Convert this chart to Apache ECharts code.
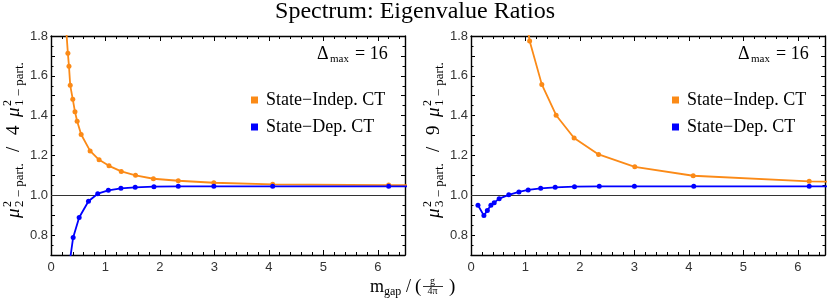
<!DOCTYPE html>
<html>
<head>
<meta charset="utf-8">
<script src="https://cdn.jsdelivr.net/npm/echarts@6/dist/echarts.min.js"></script>
<style>
html,body{margin:0;padding:0;background:#fff;}
#c{width:830px;height:302px;}
</style>
</head>
<body>
<div id="c"></div>
<script>
// ---- data ----
const titleText = 'Spectrum: Eigenvalue Ratios';
const seriesNames = ['State\u2212Indep. CT', 'State\u2212Dep. CT'];
const yTickValues = [0.8, 1.0, 1.2, 1.4, 1.6, 1.8];
const xTickValues = [0, 1, 2, 3, 4, 5, 6];

// left panel: mu2^2 / 4 mu1^2
const indepLeftX = [0.28, 0.31, 0.33, 0.353, 0.40, 0.44, 0.48, 0.554, 0.718, 0.883, 1.065, 1.29, 1.552, 1.88, 2.337, 2.99, 4.07, 6.2, 12.5];
const indepLeftY = [1.83, 1.713, 1.648, 1.552, 1.482, 1.42, 1.372, 1.305, 1.223, 1.178, 1.148, 1.12, 1.10, 1.083, 1.073, 1.063, 1.055, 1.051, 1.047];
const depLeftX = [0.33, 0.407, 0.517, 0.688, 0.858, 1.053, 1.284, 1.546, 1.89, 2.337, 2.99, 4.07, 6.2, 12.5];
const depLeftY = [0.64, 0.788, 0.888, 0.97, 1.008, 1.025, 1.035, 1.04, 1.043, 1.045, 1.045, 1.045, 1.045, 1.045];

// right panel: mu3^2 / 9 mu1^2
const indepRightX = [0.883, 1.077, 1.30, 1.563, 1.893, 2.343, 3.007, 4.08, 6.21, 12.5];
const indepRightY = [2.1, 1.775, 1.557, 1.402, 1.288, 1.205, 1.143, 1.098, 1.07, 1.045];
const depRightX = [0.128, 0.237, 0.30, 0.365, 0.426, 0.517, 0.694, 0.88, 1.05, 1.28, 1.546, 1.9, 2.355, 3.0, 4.09, 6.21, 12.5];
const depRightY = [0.95, 0.898, 0.923, 0.95, 0.963, 0.983, 1.002, 1.017, 1.027, 1.035, 1.04, 1.043, 1.045, 1.045, 1.045, 1.045, 1.045];

const refLine = 1.0;
// ---------------------------------------

const ORANGE = '#FB8A17';
const BLUE = '#0000FF';
const SERIF = '"Liberation Serif", "DejaVu Serif", serif';
const SANS = '"Liberation Sans", Arial, sans-serif';

function pairs(xs, ys) { return xs.map((x, i) => [x, ys[i]]); }

const grids = [
  {left: 51, top: 36, width: 354, height: 219},
  {left: 471, top: 36, width: 354, height: 219}
];

function xAxes(gi) {
  const common = {
    type: 'value', gridIndex: gi, min: 0, max: 6.5, interval: 1,
    axisLine: {show: true, onZero: false, lineStyle: {color: '#000', width: 1.4}},
    axisTick: {show: true, inside: true, length: 5, lineStyle: {color: '#000', width: 1}},
    minorTick: {show: true, splitNumber: 5, length: 3, lineStyle: {color: '#000', width: 1}},
    splitLine: {show: false}
  };
  return [
    Object.assign({}, common, {position: 'bottom',
      axisLabel: {show: true, margin: 6, fontFamily: SANS, fontSize: 13, color: '#333', showMaxLabel: false,
        formatter: v => (xTickValues.indexOf(Math.round(v * 10) / 10) >= 0 ? String(Math.round(v)) : '')}}),
    Object.assign({}, common, {position: 'top', axisLabel: {show: false}})
  ];
}

function yAxes(gi) {
  const common = {
    type: 'value', gridIndex: gi, min: 0.7, max: 1.8, interval: 0.1,
    axisLine: {show: true, onZero: false, lineStyle: {color: '#000', width: 1.4}},
    axisTick: {show: true, inside: true, length: 4, lineStyle: {color: '#000', width: 1}},
    minorTick: {show: true, splitNumber: 2, length: 2.5, lineStyle: {color: '#000', width: 1}},
    splitLine: {show: false}
  };
  return [
    Object.assign({}, common, {position: 'left',
      axisLabel: {show: true, margin: 3, fontFamily: SANS, fontSize: 13, color: '#333',
        formatter: v => {
          const r = Math.round(v * 10) / 10;
          return yTickValues.some(t => Math.abs(t - r) < 1e-6) ? r.toFixed(1) : '';
        }}}),
    Object.assign({}, common, {position: 'right', axisLabel: {show: false}})
  ];
}

function lineSeries(name, color, data, xi, yi, withRef) {
  const s = {
    name: name, type: 'line', xAxisIndex: xi, yAxisIndex: yi,
    data: data, symbol: 'circle', symbolSize: 5, showSymbol: true, clip: true,
    itemStyle: {color: color}, lineStyle: {color: color, width: 1.8},
    animation: false, z: 3
  };
  if (withRef) {
    s.markLine = {silent: true, symbol: ['none', 'none'], label: {show: false},
      lineStyle: {color: '#333', width: 1, type: 'solid'}, data: [{yAxis: refLine}], z: 1};
  }
  return s;
}

function legendFor(left) {
  return {
    orient: 'vertical', left: left, top: 86, itemGap: 9, itemWidth: 7, itemHeight: 7,
    icon: 'rect', data: seriesNames, selectedMode: false,
    textStyle: {fontFamily: SERIF, fontSize: 18, color: '#000', padding: [0, 0, 0, 3]}
  };
}

function deltaLabel(x0) {
  return [
    {type: 'text', x: x0, y: 54, style: {text: '\u0394', font: '18px ' + SERIF, fill: '#000', align: 'left', verticalAlign: 'middle'}},
    {type: 'text', x: x0 + 13, y: 59, style: {text: 'max', font: '11px ' + SERIF, fill: '#000', align: 'left', verticalAlign: 'middle'}},
    {type: 'text', x: x0 + 38, y: 54, style: {text: '= 16', font: '18px ' + SERIF, fill: '#000', align: 'left', verticalAlign: 'middle'}}
  ];
}

function yName(x0, num, k) {
  return {
    type: 'group', x: x0, y: 218, rotation: Math.PI / 2,
    children: [
      {type: 'text', x: 0, y: 0, style: {text: '\u03bc', font: 'italic 19px ' + SERIF, fill: '#000', verticalAlign: 'middle'}},
      {type: 'text', x: 11, y: -6, style: {text: '2', font: '12px ' + SERIF, fill: '#000', verticalAlign: 'middle'}},
      {type: 'text', x: 11, y: 6, style: {text: num + ' \u2212 part.', font: '13px ' + SERIF, fill: '#000', verticalAlign: 'middle'}},
      {type: 'text', x: 66, y: 0, style: {text: '/', font: '19px ' + SERIF, fill: '#000', verticalAlign: 'middle'}},
      {type: 'text', x: 83, y: 0, style: {text: k, font: '19px ' + SERIF, fill: '#000', verticalAlign: 'middle'}},
      {type: 'text', x: 101, y: 0, style: {text: '\u03bc', font: 'italic 19px ' + SERIF, fill: '#000', verticalAlign: 'middle'}},
      {type: 'text', x: 112, y: -6, style: {text: '2', font: '12px ' + SERIF, fill: '#000', verticalAlign: 'middle'}},
      {type: 'text', x: 112, y: 6, style: {text: '1 \u2212 part.', font: '13px ' + SERIF, fill: '#000', verticalAlign: 'middle'}}
    ]
  };
}

const xLabel = [
  {type: 'text', x: 370, y: 287, style: {text: 'm', font: '18px ' + SERIF, fill: '#000', verticalAlign: 'middle'}},
  {type: 'text', x: 384, y: 292, style: {text: 'gap', font: '12px ' + SERIF, fill: '#000', verticalAlign: 'middle'}},
  {type: 'text', x: 406, y: 287, style: {text: '/', font: '18px ' + SERIF, fill: '#000', verticalAlign: 'middle'}},
  {type: 'text', x: 415, y: 287, style: {text: '(', font: '19px ' + SERIF, fill: '#000', verticalAlign: 'middle'}},
  {type: 'text', x: 432.5, y: 281.5, style: {text: 'g', font: '10px ' + SERIF, fill: '#000', align: 'center', verticalAlign: 'middle'}},
  {type: 'line', shape: {x1: 423, y1: 286.5, x2: 443, y2: 286.5}, style: {stroke: '#000', lineWidth: 0.8}},
  {type: 'text', x: 432.5, y: 291, style: {text: '4\u03c0', font: '10px ' + SERIF, fill: '#000', align: 'center', verticalAlign: 'middle'}},
  {type: 'text', x: 449, y: 287, style: {text: ')', font: '19px ' + SERIF, fill: '#000', verticalAlign: 'middle'}}
];

const option = {
  backgroundColor: '#fff',
  animation: false,
  title: {text: titleText, left: 'center', top: 0, padding: 0,
    textStyle: {fontFamily: SERIF, fontSize: 24, fontWeight: 'normal', color: '#000'}},
  grid: grids,
  xAxis: xAxes(0).concat(xAxes(1)),
  yAxis: yAxes(0).concat(yAxes(1)),
  legend: [legendFor(246), legendFor(667)],
  series: [
    lineSeries(seriesNames[0], ORANGE, pairs(indepLeftX, indepLeftY), 0, 0, false),
    lineSeries(seriesNames[1], BLUE, pairs(depLeftX, depLeftY), 0, 0, true),
    lineSeries(seriesNames[0], ORANGE, pairs(indepRightX, indepRightY), 2, 2, false),
    lineSeries(seriesNames[1], BLUE, pairs(depRightX, depRightY), 2, 2, true)
  ],
  graphic: [].concat(
    deltaLabel(317), deltaLabel(738),
    [yName(14, '2', '4'), yName(434, '3', '9')],
    xLabel
  )
};

const chart = echarts.init(document.getElementById('c'), null, {renderer: 'canvas'});
chart.setOption(option);
</script>
</body>
</html>
